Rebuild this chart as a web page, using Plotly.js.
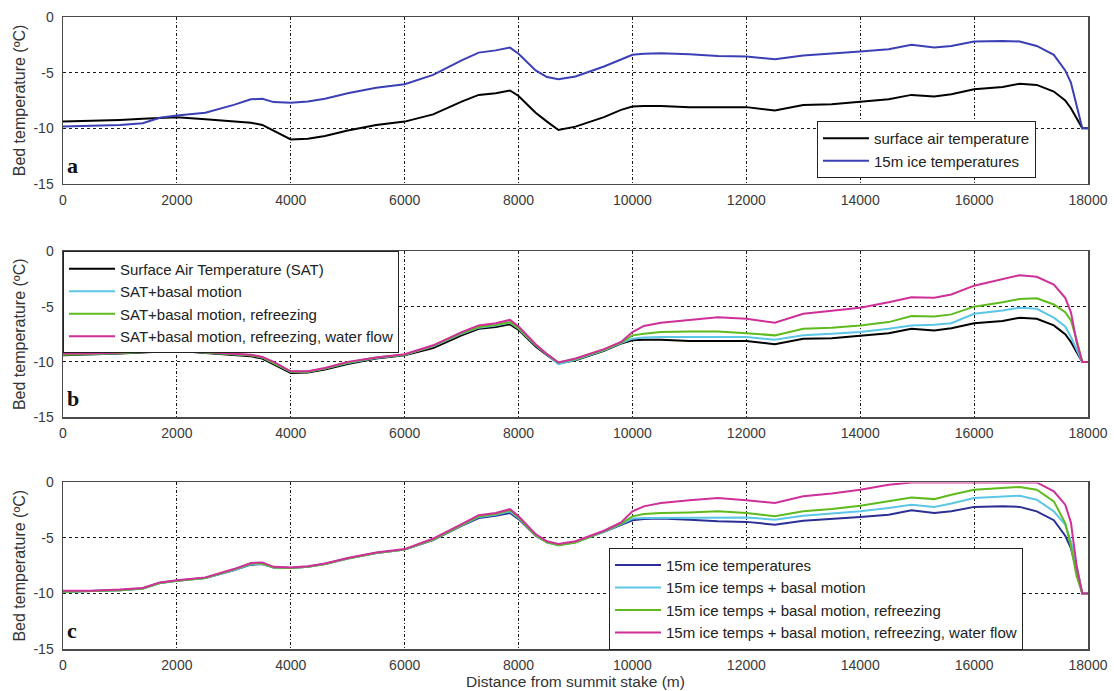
<!DOCTYPE html>
<html>
<head>
<meta charset="utf-8">
<script src="https://cdn.plot.ly/plotly-3.0.1.min.js"></script>
<style>html,body{margin:0;padding:0;background:#fff;}#chart{width:1114px;height:691px;}</style>
</head>
<body>
<div id="chart"></div>
<script>
// Distance from summit stake (m)
const distance = [0,500,1000,1400,1700,2000,2500,3000,3300,3500,3700,4000,4300,4600,5000,5500,6000,6500,7000,7300,7600,7850,8000,8300,8500,8700,9000,9500,9800,10000,10200,10500,11000,11500,12000,12500,13000,13500,14000,14500,14900,15300,15600,16000,16500,16800,17100,17400,17600,17700,17800,17900,18000];

// Panel a / b: surface air temperature
const surfaceAir = [-9.4,-9.35,-9.25,-9.15,-9.05,-9.0,-9.2,-9.35,-9.5,-9.7,-10.2,-11.0,-10.95,-10.7,-10.2,-9.7,-9.4,-8.75,-7.6,-7.0,-6.85,-6.6,-7.1,-8.6,-9.4,-10.15,-9.85,-9.0,-8.35,-8.05,-8.0,-8.0,-8.1,-8.1,-8.1,-8.4,-7.9,-7.85,-7.65,-7.4,-7.0,-7.15,-6.95,-6.5,-6.3,-6.0,-6.1,-6.7,-7.5,-8.2,-9.1,-10.0,-10.0];
// Panel a / c: 15m ice temperatures
const ice15m = [-9.85,-9.8,-9.7,-9.55,-9.05,-8.85,-8.6,-7.9,-7.4,-7.35,-7.65,-7.7,-7.6,-7.35,-6.85,-6.35,-6.05,-5.2,-3.9,-3.2,-3.0,-2.75,-3.3,-4.8,-5.4,-5.6,-5.35,-4.45,-3.8,-3.4,-3.3,-3.25,-3.35,-3.5,-3.55,-3.8,-3.45,-3.3,-3.1,-2.9,-2.5,-2.75,-2.6,-2.2,-2.15,-2.2,-2.6,-3.4,-4.8,-5.9,-7.9,-10.0,-10.0];

// Panel b
const satBasal = [-9.3,-9.3,-9.2,-9.1,-9.0,-8.95,-9.15,-9.3,-9.4,-9.6,-10.1,-10.9,-10.9,-10.6,-10.1,-9.65,-9.35,-8.6,-7.45,-6.9,-6.7,-6.45,-7.0,-8.5,-9.35,-10.2,-9.8,-8.95,-8.3,-7.9,-7.8,-7.75,-7.75,-7.75,-7.75,-8.0,-7.6,-7.45,-7.3,-7.0,-6.7,-6.65,-6.5,-5.65,-5.35,-5.1,-5.2,-6.0,-6.8,-7.75,-8.8,-10.0,-10.0];
const satRefreeze = [-9.35,-9.3,-9.2,-9.1,-9.0,-8.9,-9.15,-9.3,-9.4,-9.6,-10.1,-10.9,-10.9,-10.6,-10.05,-9.6,-9.35,-8.55,-7.4,-6.85,-6.65,-6.4,-6.95,-8.45,-9.3,-10.05,-9.75,-8.9,-8.25,-7.6,-7.45,-7.3,-7.25,-7.25,-7.4,-7.6,-7.0,-6.9,-6.7,-6.4,-5.85,-5.9,-5.7,-5.0,-4.6,-4.3,-4.25,-4.8,-5.5,-6.25,-8.0,-10.0,-10.0];
const satWater = [-9.25,-9.25,-9.15,-9.05,-8.9,-8.8,-9.1,-9.25,-9.35,-9.55,-10.0,-10.85,-10.85,-10.55,-10.0,-9.6,-9.3,-8.5,-7.3,-6.7,-6.5,-6.2,-6.8,-8.4,-9.3,-10.05,-9.7,-8.85,-8.2,-7.3,-6.75,-6.45,-6.2,-5.95,-6.1,-6.45,-5.65,-5.4,-5.1,-4.6,-4.15,-4.2,-3.9,-3.1,-2.5,-2.15,-2.3,-3.0,-4.2,-5.5,-8.2,-10.0,-10.0];

// Panel c
const iceBasal = [-9.85,-9.8,-9.7,-9.55,-9.05,-8.85,-8.6,-7.9,-7.35,-7.35,-7.65,-7.7,-7.6,-7.35,-6.85,-6.35,-6.05,-5.15,-3.85,-3.1,-2.9,-2.6,-3.2,-4.75,-5.4,-5.65,-5.4,-4.45,-3.75,-3.25,-3.2,-3.2,-3.2,-3.2,-3.15,-3.35,-3.0,-2.8,-2.6,-2.3,-2.0,-2.2,-1.9,-1.4,-1.25,-1.2,-1.55,-2.6,-3.8,-5.3,-7.55,-10.0,-10.0];
const iceRefreeze = [-9.85,-9.8,-9.7,-9.55,-9.05,-8.85,-8.6,-7.85,-7.3,-7.3,-7.65,-7.7,-7.6,-7.35,-6.85,-6.35,-6.05,-5.15,-3.85,-3.05,-2.85,-2.5,-3.15,-4.75,-5.4,-5.65,-5.4,-4.4,-3.7,-3.05,-2.85,-2.75,-2.7,-2.6,-2.75,-3.05,-2.6,-2.4,-2.1,-1.7,-1.35,-1.5,-1.1,-0.65,-0.5,-0.4,-0.65,-1.7,-3.65,-5.75,-8.45,-10.0,-10.0];
const iceWater = [-9.75,-9.75,-9.65,-9.5,-9.0,-8.8,-8.55,-7.8,-7.25,-7.2,-7.6,-7.65,-7.55,-7.3,-6.8,-6.3,-6.0,-5.05,-3.75,-2.95,-2.75,-2.4,-3.05,-4.65,-5.3,-5.55,-5.3,-4.35,-3.6,-2.6,-2.15,-1.85,-1.6,-1.4,-1.6,-1.85,-1.25,-1.0,-0.65,-0.2,0,0,0,0,0,0,0,-0.8,-2.0,-3.6,-7.5,-10.0,-10.0];

const xTickVals = [0,2000,4000,6000,8000,10000,12000,14000,16000,18000];
const yTickVals = [-15,-10,-5,0];
const panelLetters = ['a','b','c'];

const FONT = 'Liberation Sans, Arial, sans-serif';
const C = {black:'#000000', blueA:'#3b3fb5', navy:'#2b2f95', cyan:'#5cc6e6', green:'#5fba1e', magenta:'#cf2f98'};

function tr(y, name, color, xa, ya, leg){
  return {x: distance, y: y, name: name, type:'scatter', mode:'lines',
    line:{color:color, width:2}, xaxis:xa, yaxis:ya, legend:leg, showlegend:true};
}

const data = [
  tr(surfaceAir,'surface air temperature',C.black,'x','y','legend'),
  tr(ice15m,'15m ice temperatures',C.blueA,'x','y','legend'),
  tr(surfaceAir,'Surface Air Temperature (SAT)',C.black,'x2','y2','legend2'),
  tr(satBasal,'SAT+basal motion',C.cyan,'x2','y2','legend2'),
  tr(satRefreeze,'SAT+basal motion, refreezing',C.green,'x2','y2','legend2'),
  tr(satWater,'SAT+basal motion, refreezing, water flow',C.magenta,'x2','y2','legend2'),
  tr(ice15m,'15m ice temperatures',C.navy,'x3','y3','legend3'),
  tr(iceBasal,'15m ice temps + basal motion',C.cyan,'x3','y3','legend3'),
  tr(iceRefreeze,'15m ice temps + basal motion, refreezing',C.green,'x3','y3','legend3'),
  tr(iceWater,'15m ice temps + basal motion, refreezing, water flow',C.magenta,'x3','y3','legend3')
];

function xax(anchor, withTitle){
  const a = {anchor:anchor, range:[0,18000], tickvals:xTickVals, ticktext:xTickVals.map(String),
    showgrid:true, gridcolor:'#1a1a1a', gridwidth:1, griddash:'3px,2px,1px,2px', zeroline:false,
    showline:true, linecolor:'#4a4a4a', linewidth:1.5, mirror:true, ticks:'',
    ticklabelstandoff:3, tickfont:{family:FONT, size:14, color:'#3a3a3a'}};
  if (withTitle) a.title = {text:'Distance from summit stake (m)', font:{family:FONT,size:15.5,color:'#333'}, standoff:3};
  return a;
}
function yax(anchor, dom){
  return {anchor:anchor, domain:dom, range:[-15,0], tickvals:yTickVals, ticktext:yTickVals.map(String),
    showgrid:true, gridcolor:'#1a1a1a', gridwidth:1, griddash:'3px,3px', zeroline:false,
    showline:true, linecolor:'#4a4a4a', linewidth:1.5, mirror:true, ticks:'',
    ticklabelstandoff:5, tickfont:{family:FONT, size:14, color:'#3a3a3a'},
    title:{text:'Bed temperature (ºC)', font:{family:FONT,size:16,color:'#333'}, standoff:4}};
}

function leg(x, y){
  return {x:x, y:y, xanchor:'left', yanchor:'top', bgcolor:'#ffffff', bordercolor:'#222', borderwidth:1,
    font:{family:FONT, size:15, color:'#222'}, tracegroupgap:0, itemwidth:46};
}

const annotations = panelLetters.map((t,i)=>({
  text:'<b>'+t+'</b>', xref:(i===0?'x':'x'+(i+1))+' domain', yref:(i===0?'y':'y'+(i+1))+' domain',
  x:0.002, y:0, xanchor:'left', yanchor:'bottom', yshift:4, showarrow:false,
  font:{family:'Liberation Serif, Times New Roman, serif', size:22, color:'#111'}
}));

const layout = {
  width:1114, height:691, paper_bgcolor:'#fff', plot_bgcolor:'#fff',
  margin:{l:63, r:26, t:17, b:42},
  xaxis:xax('y', false), yaxis:yax('x',[0.7359,1.0]),
  xaxis2:xax('y2', false), yaxis2:yax('x2',[0.3669,0.6291]),
  xaxis3:xax('y3', true), yaxis3:yax('x3',[0,0.2635]),
  legend:leg(0.7356,0.8355), legend2:leg(0.0,0.6291), legend3:leg(0.5327,0.1602),
  annotations:annotations, showlegend:true
};

Plotly.newPlot('chart', data, layout, {displayModeBar:false, staticPlot:true});
</script>
</body>
</html>
